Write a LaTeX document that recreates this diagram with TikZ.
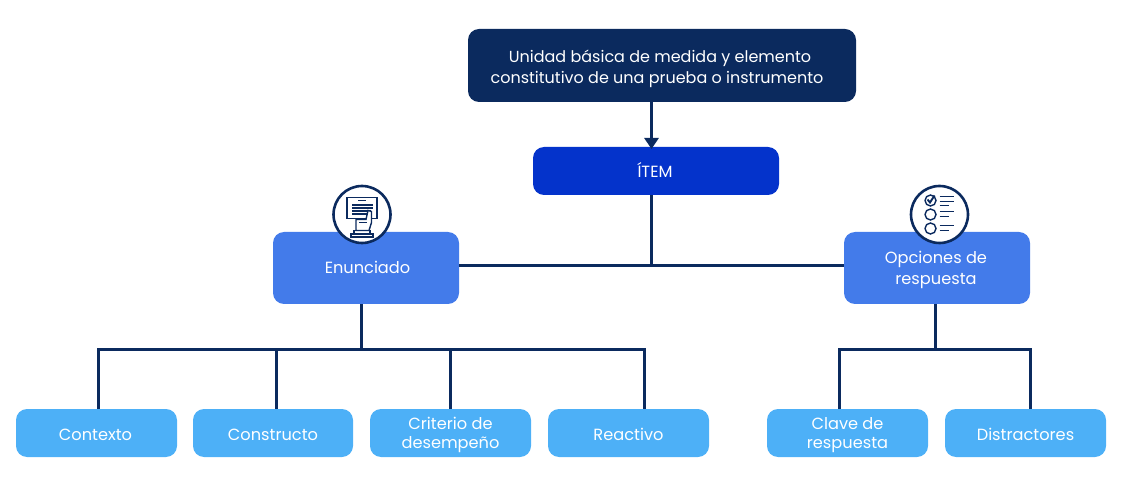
\documentclass[tikz,border=0pt]{standalone}
\usepackage{fontspec}
\setmainfont{Poppins}
\usetikzlibrary{arrows.meta}
\definecolor{navy}{HTML}{0B2A5E}
\definecolor{royal}{HTML}{0433CB}
\definecolor{midblue}{HTML}{437BEA}
\definecolor{skyb}{HTML}{4DB0F7}
\tikzset{
  x=1pt,y=-1pt,
  boxn/.style={rounded corners=11pt,inner sep=0pt,text=white},
  fa/.style={font=\fontsize{16}{21}\selectfont},
  fb/.style={font=\fontsize{16.2}{21}\selectfont},
  fc/.style={font=\fontsize{16.2}{18.5}\selectfont},
  link/.style={draw=navy,line width=3pt},
  iconc/.style={circle,draw=navy,line width=2.6pt,fill=white,minimum size=57pt,inner sep=0pt},
  ic/.style={draw=navy,line width=1.2pt},
}
% name, x, y, w, h, style, text kern (2*dx), top kern (2*dy), text
\newcommand{\bx}[9]{\node[boxn,#6,minimum width=#4 pt,minimum height=#5 pt] (#1) at (#2,#3) {\vbox{\kern#8pt\hbox{\kern#7pt\begin{tabular}{@{}c@{}}#9\end{tabular}}}};}
\begin{document}
\begin{tikzpicture}
\useasboundingbox (0,0) rectangle (1127,478);
\bx{def}{662}{65.5}{388}{73}{fill=navy,fa}{-10}{6}{\kern6pt Unidad básica de medida y elemento\\constitutivo de una prueba o instrumento}
\bx{item}{656}{171}{246}{48}{fill=royal,fb}{-2}{4}{ÍTEM}
\bx{enun}{366}{268}{186}{72}{fill=midblue,fb}{3}{2}{Enunciado}
\bx{opc}{937}{268}{186}{72}{fill=midblue,fb}{-2}{3}{Opciones de\\respuesta}
\bx{ctx}{96.5}{433}{161}{48}{fill=skyb,fc}{-2}{8}{Contexto}
\bx{con}{273}{433}{160}{48}{fill=skyb,fc}{0}{8}{Constructo}
\bx{cri}{450.5}{433}{161}{48}{fill=skyb,fc}{0}{5}{Criterio de\\desempeño}
\bx{rea}{628.5}{433}{161}{48}{fill=skyb,fc}{0}{7}{Reactivo}
\bx{cla}{847.5}{433}{161}{48}{fill=skyb,fc}{0}{5}{Clave de\\respuesta}
\bx{dis}{1025.5}{433}{161}{48}{fill=skyb,fc}{0}{7}{Distractores}
% junctions
\coordinate (ja) at (651.5,265.5);
\coordinate (jb) at (361,349);
\coordinate (jc) at (935,349);
% connectors
\draw[link,-{Triangle[length=11pt,width=14pt]}] (651.5,0 |- def.south) -- (651.5,149);
\draw[link] (651.5,0 |- item.south) -- (ja);
\draw[link] (enun.east |- ja) -- (opc.west |- ja);
\draw[link] (361,0 |- enun.south) -- (jb);
\draw[link] (935,0 |- opc.south) -- (jc);
\draw[link] (98,0 |- ctx.north) -- (98,0 |- jb) -- (644,0 |- jb) -- (644,0 |- rea.north);
\draw[link] (276,0 |- con.north) -- (276,0 |- jb);
\draw[link] (450,0 |- cri.north) -- (450,0 |- jb);
\draw[link] (839,0 |- cla.north) -- (839,0 |- jc) -- (1030,0 |- jc) -- (1030,0 |- dis.north);
% icon: hand holding sheet
\node[iconc] (ica) at (362,214.5) {};
\begin{scope}[shift={(ica.center)}]
  \draw[ic] (-15,-17) rectangle (15,4);
  \draw[ic] (-4,-14) -- (4,-14);
  \draw[ic,line width=1.3pt] (-10,-9.5) -- (11,-9.5) (-10,-6.5) -- (11,-6.5) (-10,-3.5) -- (9,-3.5) (-10,-0.5) -- (5,-0.5);
  \draw[ic,fill=white,line width=1.4pt] (-6,16) -- (-6,5) -- (4,5) -- (6,-4) -- (9.5,-3) -- (9.5,8) -- (7,16) -- cycle;
  \draw[ic] (-3,8) -- (5,8);
  \draw[ic,line width=1.4pt] (-8,16) rectangle (8,19);
  \draw[ic,line width=1.4pt] (-11,19.5) rectangle (11,22.5);
\end{scope}
% icon: checklist
\node[iconc] (icb) at (939.5,214.5) {};
\begin{scope}[shift={(icb.center)}]
  \foreach \y in {-14,0,14}{\draw[ic,line width=1.4pt] (-9,\y) circle (5.5);}
  \draw[ic,line width=1.9pt] (-12,-15) -- (-9.5,-12) -- (-5,-19);
  \foreach \y/\l in {-18/14,-13/14,-9/9,-3/14,2/9,11/14,16/9}{\draw[ic,line width=1.5pt] (0,\y) -- (\l,\y);}
\end{scope}
\end{tikzpicture}
\end{document}
